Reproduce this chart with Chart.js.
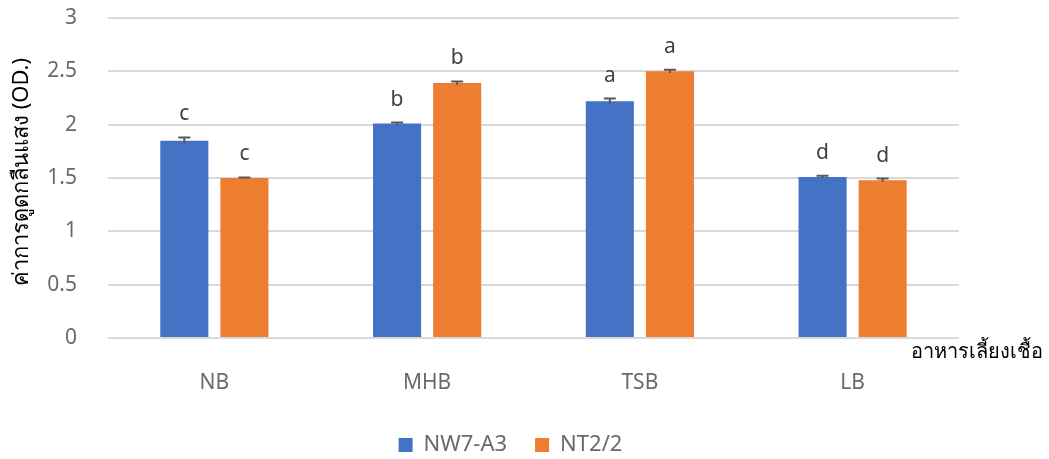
<!DOCTYPE html>
<html>
<head>
<meta charset="utf-8">
<script src="https://cdn.jsdelivr.net/npm/chart.js@4.4.0/dist/chart.umd.min.js"></script>
<style>
  html, body { margin: 0; padding: 0; background: #fff; }
  #wrap { width: 1049px; height: 459px; position: relative; }
</style>
</head>
<body>
<div id="wrap"><canvas id="c" width="1049" height="459"></canvas></div>
<script>
// Culture media on the x axis
const categories = ['NB', 'MHB', 'TSB', 'LB'];
// Optical density per isolate
const nw7Values = [1.85, 2.01, 2.22, 1.51];
const nt22Values = [1.50, 2.39, 2.50, 1.48];
// Error bar half-heights
const nw7Errors = [0.03, 0.01, 0.025, 0.01];
const nt22Errors = [0.005, 0.015, 0.015, 0.015];
// Significance letters above each bar
const nw7Letters = ['c', 'b', 'a', 'd'];
const nt22Letters = ['c', 'b', 'a', 'd'];
// Y tick labels
const yTicks = [0, 0.5, 1, 1.5, 2, 2.5, 3];

const seriesNames = ['NW7-A3', 'NT2/2'];
const yTitle = 'ค่าการดูดกลืนแสง (OD.)';
const xTitle = 'อาหารเลี้ยงเชื้อ';

const FONT = "'Noto Sans', 'Open Sans', sans-serif";
const TICK_COLOR = '#6a6a6a';

// Error bars, letters and axis titles drawn over the bars
const annotate = {
  id: 'annotate',
  afterDatasetsDraw(chart) {
    const ctx = chart.ctx;
    const y = chart.scales.y;
    const errs = [nw7Errors, nt22Errors];
    const letters = [nw7Letters, nt22Letters];
    chart.data.datasets.forEach((ds, di) => {
      const meta = chart.getDatasetMeta(di);
      meta.data.forEach((bar, i) => {
        const v = ds.data[i];
        const e = errs[di][i];
        const yTop = y.getPixelForValue(v + e);
        const yBot = y.getPixelForValue(v - e);
        ctx.save();
        ctx.strokeStyle = '#595959';
        ctx.lineWidth = 2;
        ctx.beginPath();
        ctx.moveTo(bar.x, yBot);
        ctx.lineTo(bar.x, yTop);
        ctx.moveTo(bar.x - 6, yTop);
        ctx.lineTo(bar.x + 6, yTop);
        ctx.stroke();
        ctx.fillStyle = '#404040';
        ctx.font = '21px ' + FONT;
        ctx.textAlign = 'center';
        ctx.textBaseline = 'middle';
        ctx.fillText(letters[di][i], bar.x, yTop - 23);
        ctx.restore();
      });
    });
    ctx.save();
    ctx.fillStyle = '#000';
    ctx.font = '20px ' + FONT;
    ctx.textAlign = 'right';
    ctx.textBaseline = 'middle';
    ctx.fillText(xTitle, 1043, 352);
    ctx.translate(22, 172);
    ctx.rotate(-Math.PI / 2);
    ctx.textAlign = 'center';
    ctx.font = '22px ' + FONT;
    ctx.fillText(yTitle, 0, 0);
    ctx.restore();
  }
};

new Chart(document.getElementById('c'), {
  type: 'bar',
  data: {
    labels: categories,
    datasets: [
      { label: seriesNames[0], data: nw7Values, backgroundColor: '#4472C4' },
      { label: seriesNames[1], data: nt22Values, backgroundColor: '#ED7D31' }
    ]
  },
  options: {
    responsive: false,
    animation: false,
    layout: { padding: { top: 18, right: 28, left: 0, bottom: -7 } },
    datasets: { bar: { categoryPercentage: 0.565, barPercentage: 0.8 } },
    scales: {
      x: {
        grid: { display: false, drawTicks: false },
        border: { display: false },
        ticks: { padding: 32, color: TICK_COLOR, font: { family: FONT, size: 21 } },
        afterFit(scale) { scale.height = 68; }
      },
      y: {
        min: 0, max: 3,
        afterBuildTicks(scale) { scale.ticks = yTicks.map(v => ({ value: v })); },
        grid: { color: '#d9d9d9', lineWidth: 2, drawTicks: true, tickLength: 29, tickColor: 'rgba(0,0,0,0)' },
        border: { display: false },
        ticks: {
          padding: 2, color: TICK_COLOR, font: { family: FONT, size: 21 },
          callback: v => String(v)
        },
        afterFit(scale) { scale.width = 108; }
      },
      // blank strip at the right that holds the x-axis title
      side: {
        type: 'linear', position: 'right', display: true,
        grid: { drawOnChartArea: false, drawTicks: false },
        border: { display: false },
        ticks: { display: false },
        afterFit(scale) { scale.width = 62; }
      }
    },
    plugins: {
      legend: {
        position: 'bottom',
        labels: {
          boxWidth: 14, boxHeight: 14, padding: 28,
          color: TICK_COLOR, font: { family: FONT, size: 22 }
        }
      },
      tooltip: { enabled: false }
    }
  },
  plugins: [annotate]
});
</script>
</body>
</html>
